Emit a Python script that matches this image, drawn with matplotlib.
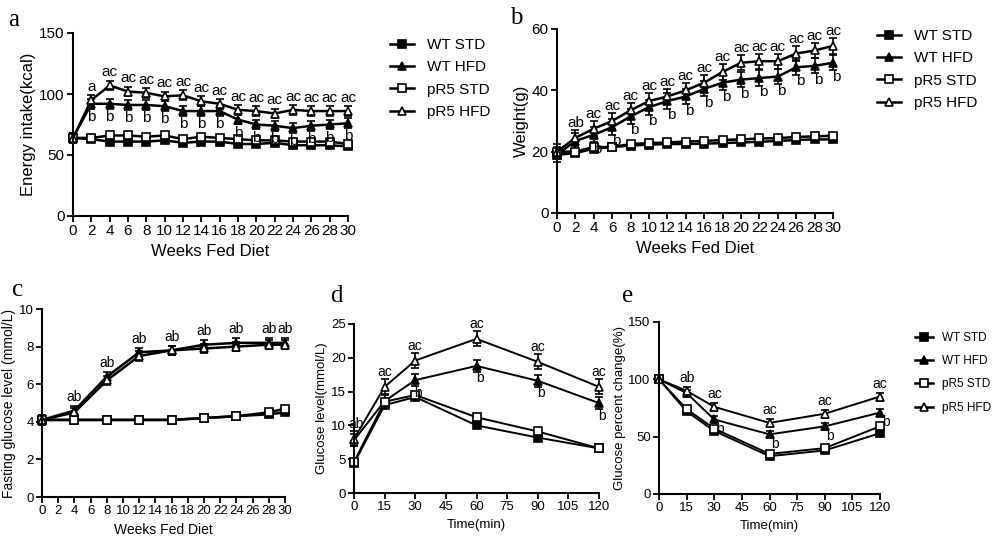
import matplotlib
matplotlib.use("Agg")
import matplotlib.pyplot as plt
import numpy as np

plt.rcParams['font.family'] = ['Liberation Sans', 'DejaVu Sans']

groups = ["WT STD", "WT HFD", "pR5 STD", "pR5 HFD"]

weeks_a = list(range(0, 31, 2))
a_wt_std = [64,63,61,61,61,62,60,61,61,59,59,60,58,58,58,57]
a_wt_hfd = [64,92,92,91,91,90,86,86,86,79,75,74,72,74,75,76]
a_pr_std = [64,64,66,66,65,66,63,65,64,63,62,62,61,61,61,59]
a_pr_hfd = [64,95,107,102,101,98,99,94,92,87,86,84,87,86,86,86]
a_top = ["", "a"] + ["ac"] * 14
a_bot = ["", "b", "b", "b", "b", "b", "b", "b", "b", "b", "b", "b", "b", "b", "b", "b"]

b_wt_std = [19,19.5,21,21.5,22,22.3,22.5,22.5,22.6,22.8,23,23.2,23.5,23.8,24,24]
b_wt_hfd = [19,23.5,25.5,28,31.5,34.5,36.5,38,40.5,42.5,43.5,44,44.5,47.5,48,49]
b_pr_std = [20,20,21.5,21.5,22.5,22.8,23,23.3,23.5,23.8,24,24.3,24.4,24.8,25,25.2]
b_pr_hfd = [20,24.5,27.5,30,33.5,36.5,38,40,42.5,46,49,49.5,49.5,52,53,54.5]
b_top = ["", "ab"] + ["ac"] * 14
b_bot = ["", ""] + ["b"] * 14

weeks_c = [0, 4, 8, 12, 16, 20, 24, 28, 30]
c_wt_std = [4.1,4.1,4.1,4.1,4.1,4.2,4.3,4.4,4.5]
c_wt_hfd = [4.1,4.6,6.4,7.7,7.8,8.1,8.2,8.2,8.2]
c_pr_std = [4.1,4.1,4.1,4.1,4.1,4.2,4.3,4.5,4.7]
c_pr_hfd = [4.1,4.5,6.2,7.5,7.8,7.9,8.0,8.1,8.1]
c_top = ["", "ab", "ab", "ab", "ab", "ab", "ab", "ab", "ab"]

times = [0, 15, 30, 60, 90, 120]
d_wt_std = [4.4,13,14.2,10,8.2,6.6]
d_wt_hfd = [7.8,13.6,16.7,18.8,16.6,13.3]
d_pr_std = [4.6,13.5,14.5,11.2,9.1,6.6]
d_pr_hfd = [8,15.7,19.6,22.8,19.4,15.7]
d_top = ["ab", "ac", "ac", "ac", "ac", "ac"]
d_bot = ["", "", "b", "b", "b", "b"]

e_wt_std = [100,72,55,33,38,53]
e_wt_hfd = [100,88,65,52,59,71]
e_pr_std = [100,74,57,35,40,59]
e_pr_hfd = [100,90,76,62,70,85]
e_top = ["", "ab", "ac", "ac", "ac", "ac"]
e_bot = ["", "", "b", "b", "b", "b"]

styles = [dict(marker='s', mfc='black'), dict(marker='^', mfc='black'),
          dict(marker='s', mfc='white'), dict(marker='^', mfc='white')]

W, H = 994, 546
fig = plt.figure(figsize=(W/100, H/100), dpi=100)

def mkax(x0, x1, y0, y1):
    return fig.add_axes([x0/W, 1-y1/H, (x1-x0)/W, (y1-y0)/H])

def style(ax, fs):
    for s in ['top', 'right']:
        ax.spines[s].set_visible(False)
    for s in ['left', 'bottom']:
        ax.spines[s].set_linewidth(1.5)
    ax.tick_params(width=1.3, length=4, labelsize=fs, pad=2)

def draw(ax, x, series, err, ms, lw):
    for y, st, e in zip(series, styles, err):
        ax.errorbar(x, y, yerr=e, color='black', lw=lw, ms=ms, mec='black',
                    mew=1.2, capsize=3, elinewidth=1.2, capthick=1.2, clip_on=False, **st)

# Panel a
axa = mkax(73, 348, 33, 216)
draw(axa, weeks_a, [a_wt_std, a_wt_hfd, a_pr_std, a_pr_hfd], [1.5, 4, 1.5, 4], 6, 1.8)
axa.set_xlim(0, 30); axa.set_ylim(0, 150)
axa.set_xticks(weeks_a); axa.set_yticks([0, 50, 100, 150])
style(axa, 11)
axa.set_xlabel("Weeks Fed Diet", fontsize=12)
axa.set_ylabel("Energy intake(kcal)", fontsize=12, labelpad=2)
for x, y, t in zip(weeks_a, a_pr_hfd, a_top):
    if t: axa.text(x, y + 5, t, ha='center', va='bottom', fontsize=11)
for x, y, t in zip(weeks_a, a_wt_hfd, a_bot):
    if t: axa.text(x, y - 5, t, ha='center', va='top', fontsize=11)

# Panel b
axb = mkax(557, 833, 29, 213)
draw(axb, weeks_a, [b_wt_std, b_wt_hfd, b_pr_std, b_pr_hfd], [0.6, 2.5, 0.6, 2.5], 6, 1.8)
axb.set_xlim(0, 30); axb.set_ylim(0, 60)
axb.set_xticks(weeks_a); axb.set_yticks([0, 20, 40, 60])
style(axb, 11)
axb.set_xlabel("Weeks Fed Diet", fontsize=12)
axb.set_ylabel("Weight(g)", fontsize=12, labelpad=2)
for x, y, t in zip(weeks_a, b_pr_hfd, b_top):
    if t: axb.text(x, y + 2.5, t, ha='center', va='bottom', fontsize=11)
for x, y, t in zip(weeks_a, b_wt_hfd, b_bot):
    if t: axb.text(x + 0.4, y - 2.3, t, ha='center', va='top', fontsize=11)

# Panel c
axc = mkax(42, 285, 309, 497)
draw(axc, weeks_c, [c_wt_std, c_wt_hfd, c_pr_std, c_pr_hfd], [0.05, 0.25, 0.05, 0.25], 5.5, 1.8)
axc.set_xlim(0, 30); axc.set_ylim(0, 10)
axc.set_xticks(range(0, 31, 2)); axc.set_yticks([0, 2, 4, 6, 8, 10])
style(axc, 9.5)
axc.set_xlabel("Weeks Fed Diet", fontsize=10)
axc.set_ylabel("Fasting glucose level (mmol/L)", fontsize=10, labelpad=2)
for x, y, t in zip(weeks_c, c_wt_hfd, c_top):
    if t: axc.text(x, y + 0.35, t, ha='center', va='bottom', fontsize=10)

# Panel d
axd = mkax(354, 599, 324, 493)
draw(axd, times, [d_wt_std, d_wt_hfd, d_pr_std, d_pr_hfd], [0.4, 0.9, 0.4, 1.1], 6, 1.4)
axd.set_xlim(0, 120); axd.set_ylim(0, 25)
axd.set_xticks(range(0, 121, 15)); axd.set_yticks(range(0, 26, 5))
style(axd, 9.5)
axd.set_xlabel("Time(min)", fontsize=9.5)
axd.set_ylabel("Glucose level(mmol/L)", fontsize=9.5, labelpad=2)
for x, y, t in zip(times, d_pr_hfd, d_top):
    if x == 0:
        axd.text(x + 1, 9.2, t, ha='center', va='bottom', fontsize=10)
    else:
        axd.text(x, y + 1.1, t, ha='center', va='bottom', fontsize=10)
for x, y, t in zip(times, d_wt_hfd, d_bot):
    if t: axd.text(x + 1.5, y - 0.8, t, ha='center', va='top', fontsize=10)

# Panel e
axe = mkax(659, 880, 322, 494)
draw(axe, times, [e_wt_std, e_wt_hfd, e_pr_std, e_pr_hfd], [1.5, 3, 1.5, 3.5], 6, 1.4)
axe.set_xlim(0, 120); axe.set_ylim(0, 150)
axe.set_xticks(range(0, 121, 15)); axe.set_yticks([0, 50, 100, 150])
style(axe, 9.5)
axe.set_xlabel("Time(min)", fontsize=9.5)
axe.set_ylabel("Glucose percent change(%)", fontsize=9.5, labelpad=2)
for x, y, t in zip(times, e_pr_hfd, e_top):
    if t: axe.text(x, y + 5, t, ha='center', va='bottom', fontsize=10)
for x, y, t in zip(times, e_wt_hfd, e_bot):
    if t: axe.text(x + 3, y - 2, t, ha='center', va='top', fontsize=10)

# Legends
for fs, x0, y0, ms, hl in [(11, 390, 38, 6, 1.6), (11, 877, 29, 6, 1.6), (8.5, 915, 332, 5.5, 1.5)]:
    handles = [plt.Line2D([], [], color='black', lw=1.8, ms=ms, mec='black', mew=1.2, **st) for st in styles]
    fig.legend(handles, groups, loc='upper left', bbox_to_anchor=(x0/W, 1-y0/H),
               frameon=False, fontsize=fs, handlelength=hl, borderpad=0, borderaxespad=0,
               labelspacing=0.55 if fs > 10 else 0.95, handletextpad=0.8)

# Panel labels
for t, x, y in [("a", 8, 20), ("b", 510, 18), ("c", 12, 290), ("d", 330, 296), ("e", 622, 296)]:
    fig.text(x/W, 1-y/H, t, fontsize=18, family='Liberation Serif', va='center')

fig.savefig("out.png", dpi=100)
